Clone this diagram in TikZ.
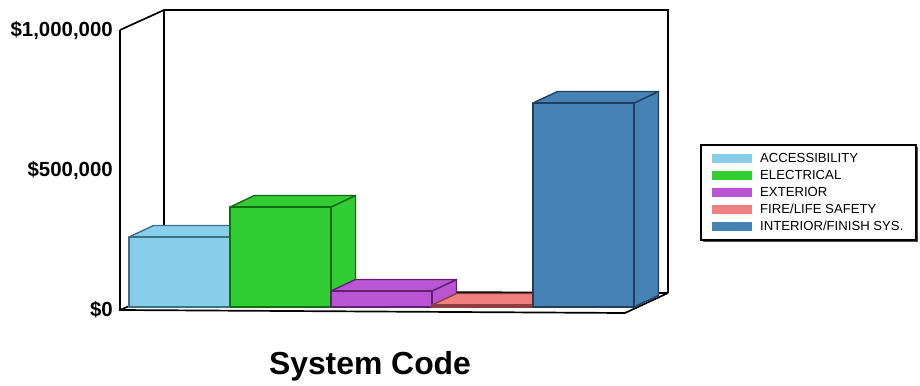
\documentclass[tikz,border=0pt]{standalone}
\usepackage{fontspec}
\setmainfont{Liberation Sans}
\definecolor{cA}{HTML}{87CEEB}\definecolor{sA}{HTML}{3F6F85}
\definecolor{cE}{HTML}{32CD32}\definecolor{sE}{HTML}{156A15}
\definecolor{cX}{HTML}{BA55D3}\definecolor{sX}{HTML}{5E2270}
\definecolor{cF}{HTML}{F08080}\definecolor{sF}{HTML}{8E3E3E}
\definecolor{cI}{HTML}{4682B4}\definecolor{sI}{HTML}{1F3F5E}
\tikzset{
  frame/.style={draw=black,line width=1.7bp},
  axlabel/.style={anchor=east,font=\bfseries\fontsize{20.5}{22}\selectfont,inner sep=0pt},
  legtext/.style={anchor=west,font=\fontsize{13.2}{15}\selectfont,inner sep=0pt},
}
% bar: x0, x1, top, fill, stroke
\newcommand{\mybar}[5]{%
  \fill[#4,draw=#5,line width=1.4bp,line join=round] (#2,307) -- (#2+24.5,295.5) -- (#2+24.5,#3-11.5) -- (#2,#3) -- cycle;
  \fill[#4,draw=#5,line width=1.4bp,line join=round] (#1,#3) -- (#1+24.5,#3-11.5) -- (#2+24.5,#3-11.5) -- (#2,#3) -- cycle;
  \fill[#4,draw=#5,line width=1.4bp,line join=round] (#1,307) rectangle (#2,#3);
}
\begin{document}
\begin{tikzpicture}[x=1bp,y=-1bp]
\useasboundingbox (0,0) rectangle (920,385);
% walls
\coordinate (flA) at (120,310);
\coordinate (frA) at (625,313);
\coordinate (blA) at (164,291);
\coordinate (brA) at (668,293);
\coordinate (btl) at (164,10);
\coordinate (btr) at (668,10);
\coordinate (ftl) at (120,30);
\draw[frame,line join=miter] (ftl) -- (btl) -- (btr) -- (brA);
\draw[frame] (btl) -- (blA) -- (brA);
\draw[frame] (ftl) -- (flA) -- (frA) -- (brA);
\draw[frame] (flA) -- (blA);
% bars
\mybar{129}{230}{237}{cA}{sA}
\mybar{230}{331}{207}{cE}{sE}
\mybar{331}{432}{291}{cX}{sX}
\mybar{432}{533}{305}{cF}{sF}
\mybar{533}{634}{103}{cI}{sI}
% axis labels
\node[axlabel] (l1) at (113,30) {\$1,000,000};
\node[axlabel] (l2) at (113,170) {\$500,000};
\node[axlabel] (l3) at (113,310) {\$0};
\node[font=\bfseries\fontsize{32}{35}\selectfont,inner sep=0pt] (title) at (370,366) {System Code};
% legend
\fill[black!70] (703,147) rectangle (918,242);
\draw[fill=white,draw=black,line width=1.2bp] (701,145) rectangle (916,240);
\foreach \c/\t [count=\i] in {cA/{ACCESSIBILITY},cE/{ELECTRICAL},cX/{EXTERIOR},cF/{FIRE/LIFE SAFETY},cI/{INTERIOR/FINISH SYS.}}{
  \fill[\c] (712,141+17*\i-4.5) rectangle (752,141+17*\i+4.5);
  \node[legtext] (leg\i) at (760,141+17*\i) {\t};
}
\end{tikzpicture}
\end{document}
